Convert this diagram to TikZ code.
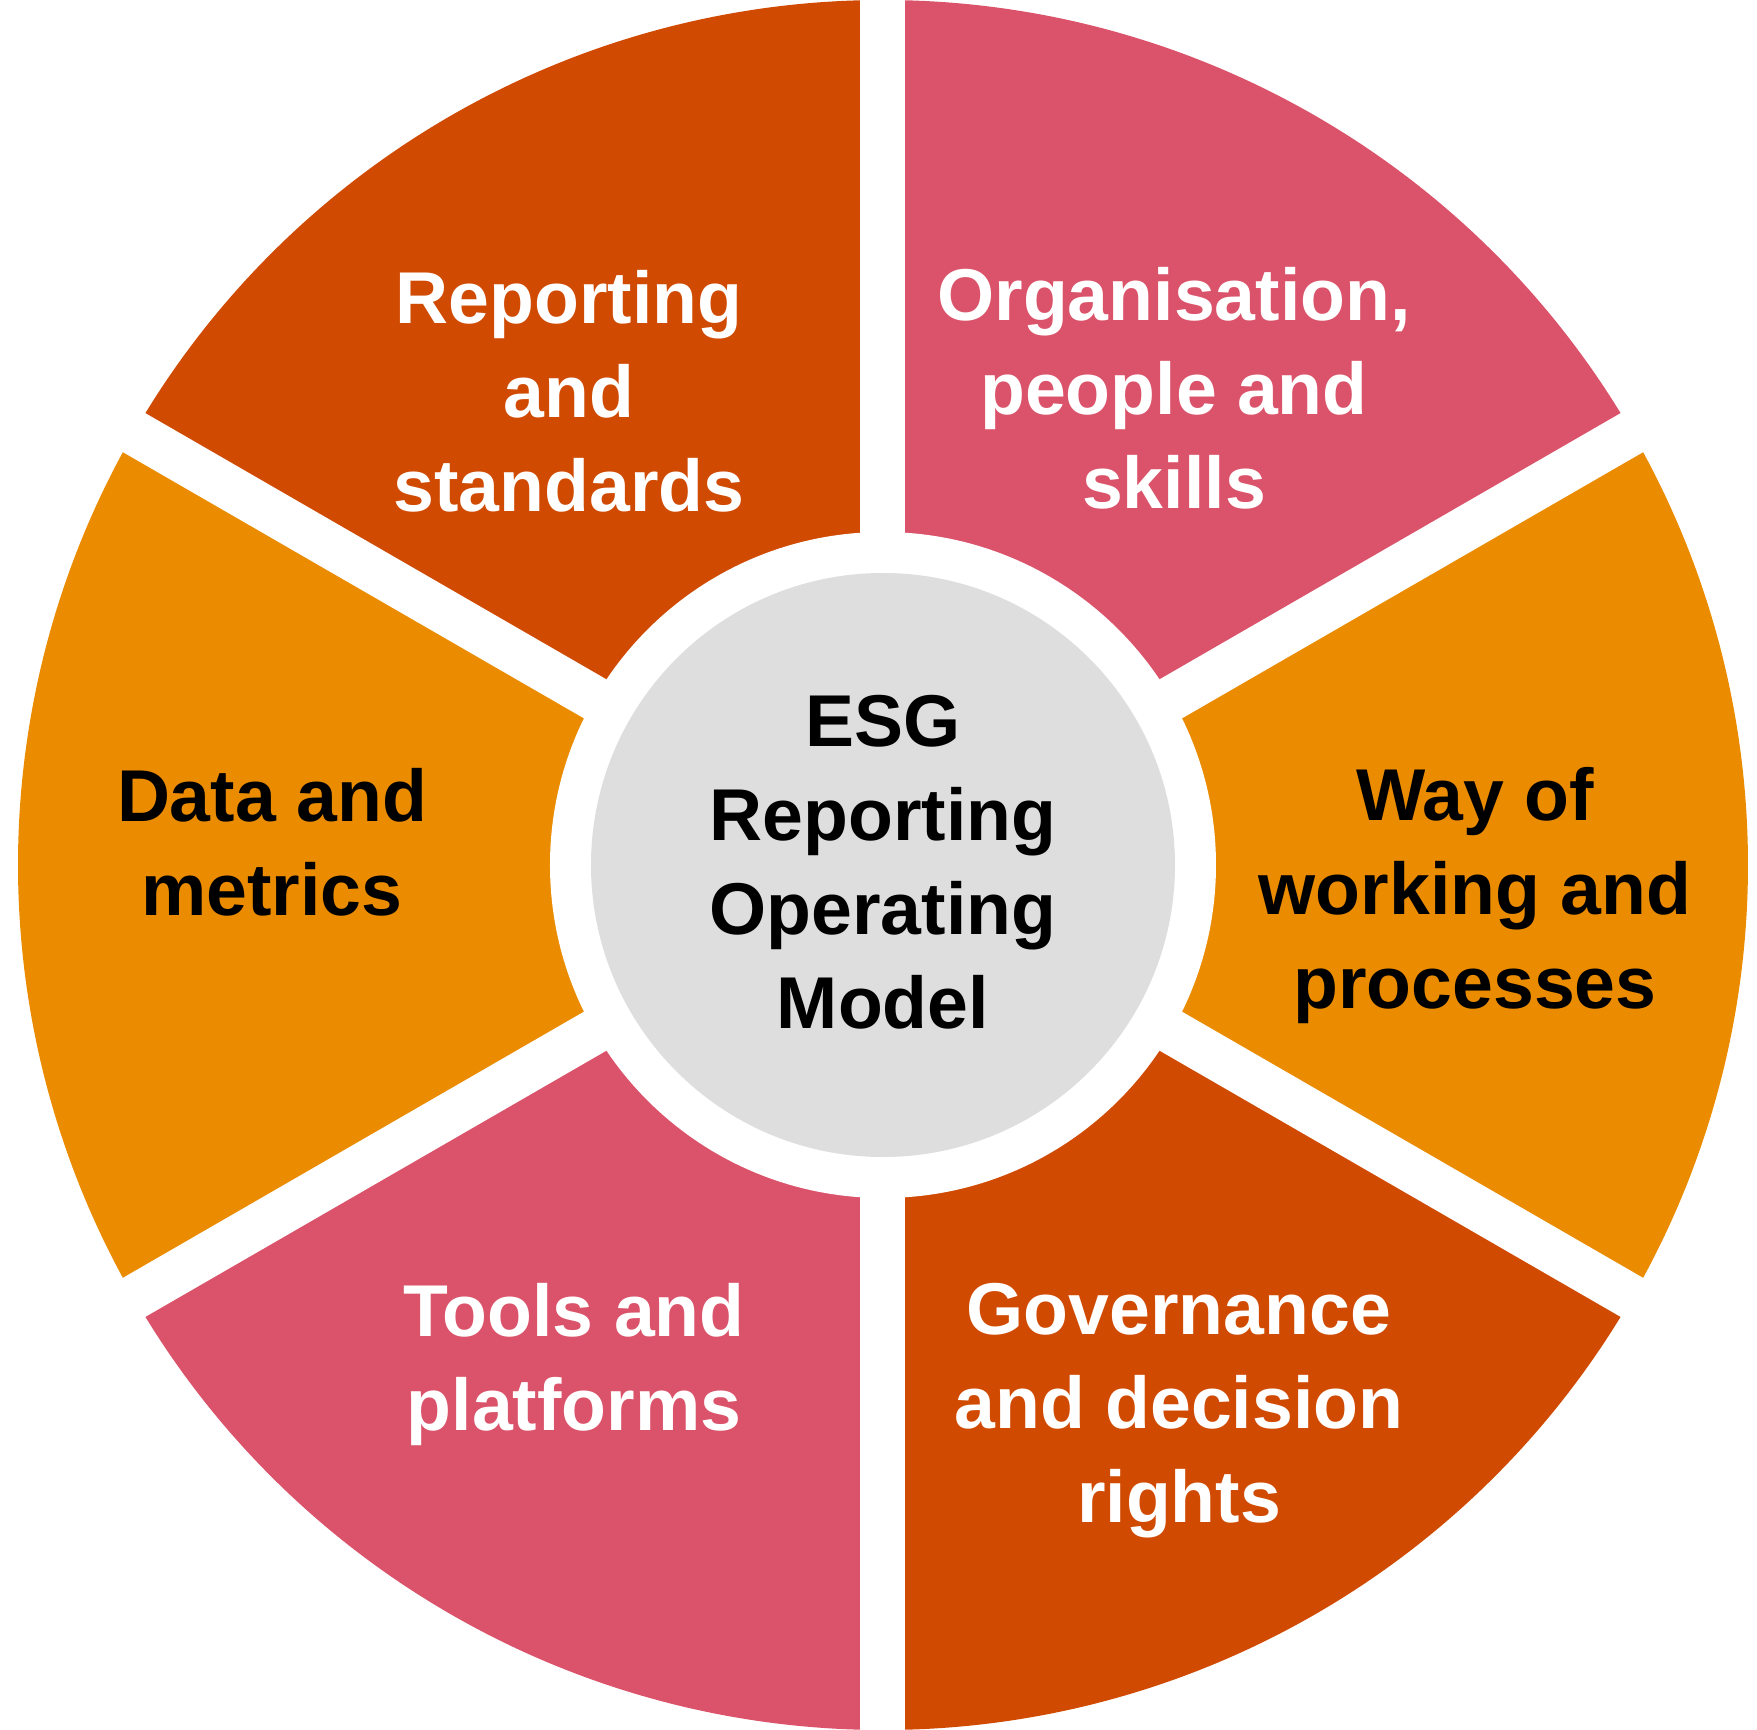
\documentclass[tikz,border=0pt]{standalone}
\usepackage{fontspec}
\setmainfont{Liberation Sans}
\definecolor{esgorange}{HTML}{D04A02}
\definecolor{esgrose}{HTML}{DB536A}
\definecolor{esgtangerine}{HTML}{EB8C00}
\definecolor{esggrey}{HTML}{DEDEDE}
\begin{document}
\begin{tikzpicture}[
      x=0.5pt,y=0.5pt,
      gapline/.style={draw=white,line width=22.5pt},
      segtext/.style={align=center,inner sep=0pt,
        font=\fontsize{36.7}{47}\selectfont\bfseries},
      ]
      \useasboundingbox (-883,-865) rectangle (874,865);

      % six segments of the wheel
      \foreach \a/\c in {30/esgrose, 90/esgorange, 150/esgtangerine,
                         210/esgrose, 270/esgorange, 330/esgtangerine}
        \fill[\c] (0,0) -- (\a:865) arc[start angle=\a, end angle=\a+60, radius=865] -- cycle;
      \foreach \a in {30,90,...,330}
        \draw[gapline] (0,0) -- (\a:900);
      \fill[white] (0,0) circle[radius=333];
      \fill[esggrey] (0,0) circle[radius=292];

      \node[segtext]             (model)      at (0,3)      {ESG\\Reporting\\Operating\\Model};
      \node[segtext, text=white] (reporting)  at (-314,474) {Reporting\\and\\standards};
      \node[segtext, text=white] (people)     at (291,477)  {Organisation,\\people and\\skills};
      \node[segtext]             (data)       at (-611,23)  {Data and\\metrics};
      \node[segtext]             (processes)  at (592,-31)  {Way of\\working and\\processes};
      \node[segtext, text=white] (tools)      at (-309,-500) {Tools and\\platforms};
      \node[segtext, text=white] (governance) at (296,-546) {Governance\\and decision\\rights};
    \end{tikzpicture}
\end{document}
